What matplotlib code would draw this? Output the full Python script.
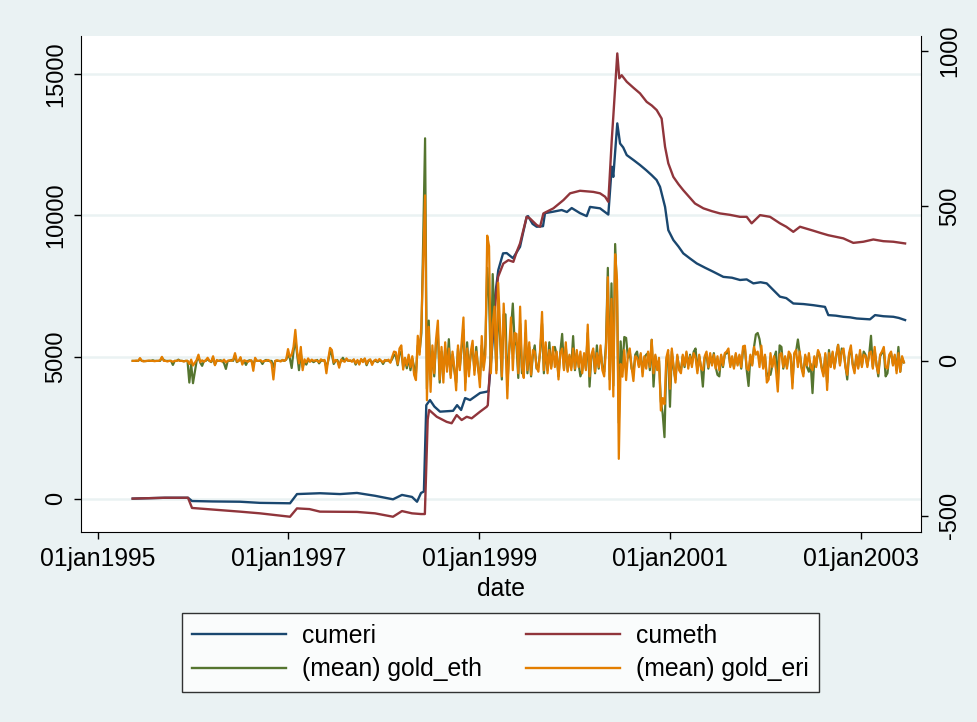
import numpy as np
import matplotlib.pyplot as plt

# cumulative series on the left axis (decimal year, value)
cumeri_t = [1995.366, 1995.705, 1995.946, 1995.988, 1996.20, 1996.491, 1996.701, 1997.016,
            1997.089, 1997.330, 1997.540, 1997.718, 1997.907, 1998.096, 1998.190, 1998.295,
            1998.348, 1998.390, 1998.420, 1998.445, 1998.484, 1998.530, 1998.589, 1998.726,
            1998.768, 1998.810, 1998.852, 1998.904, 1999.009, 1999.079, 1999.098, 1999.140,
            1999.166, 1999.200, 1999.250, 1999.288, 1999.354, 1999.428, 1999.459, 1999.498,
            1999.512, 1999.560, 1999.603, 1999.669, 1999.690, 1999.774, 1999.865, 1999.920,
            1999.970, 2000.057, 2000.127, 2000.162, 2000.267, 2000.354, 2000.390, 2000.406,
            2000.448, 2000.477, 2000.510, 2000.547, 2000.620, 2000.686, 2000.750, 2000.809,
            2000.860, 2000.896, 2000.949, 2000.983, 2001.036, 2001.090, 2001.140, 2001.210,
            2001.281, 2001.370, 2001.455, 2001.560, 2001.650, 2001.735, 2001.805, 2001.875,
            2001.950, 2002.015, 2002.080, 2002.154, 2002.220, 2002.294, 2002.400, 2002.504,
            2002.626, 2002.661, 2002.740, 2002.818, 2002.890, 2002.959, 2003.098, 2003.151,
            2003.238, 2003.343, 2003.400, 2003.466]
cumeri = [0, 30, 30, -85, -100, -110, -150, -165,
          160, 190, 160, 200, 100, -25, 130, 60,
          -110, 200, 250, 3300, 3480, 3250, 3070, 3100,
          3300, 3130, 3550, 3480, 3730, 3775, 3800, 5500,
          7130, 8070, 8660, 8670, 8490, 8890, 9370, 9950,
          9975, 9700, 9600, 9620, 10080, 10130, 10190, 10120,
          10260, 10080, 9975, 10300, 10250, 10030, 11720, 11360,
          13250, 12540, 12400, 12130, 11950, 11780, 11600, 11420,
          11250, 11010, 10300, 9480, 9130, 8900, 8660, 8480,
          8305, 8150, 8010, 7830, 7800, 7720, 7740, 7600,
          7640, 7600, 7380, 7130, 7080, 6890, 6870, 6830,
          6770, 6480, 6460, 6420, 6400, 6360, 6330, 6480,
          6440, 6420, 6380, 6305]

cumeth_t = [1995.366, 1995.705, 1995.946, 1995.988, 1996.491, 1996.701, 1997.016, 1997.089,
            1997.220, 1997.330, 1997.718, 1997.907, 1998.096, 1998.190, 1998.295, 1998.390,
            1998.430, 1998.460, 1998.475, 1998.555, 1998.659, 1998.711, 1998.764, 1998.816,
            1998.869, 1998.921, 1999.009, 1999.079, 1999.090, 1999.120, 1999.180, 1999.198,
            1999.253, 1999.306, 1999.358, 1999.393, 1999.428, 1999.463, 1999.498, 1999.533,
            1999.603, 1999.638, 1999.673, 1999.778, 1999.883, 1999.953, 2000.057, 2000.197,
            2000.267, 2000.320, 2000.354, 2000.390, 2000.406, 2000.448, 2000.469, 2000.494,
            2000.547, 2000.620, 2000.686, 2000.756, 2000.810, 2000.861, 2000.913, 2000.949,
            2000.983, 2001.036, 2001.090, 2001.140, 2001.263, 2001.351, 2001.440, 2001.525,
            2001.630, 2001.735, 2001.805, 2001.857, 2001.945, 2002.050, 2002.154, 2002.220,
            2002.294, 2002.364, 2002.504, 2002.580, 2002.661, 2002.818, 2002.923, 2003.028,
            2003.133, 2003.238, 2003.343, 2003.466]
cumeth = [0, 30, 30, -330, -460, -520, -640, -345,
          -370, -460, -470, -520, -640, -440, -520, -545,
          -545, 2800, 3130, 2890, 2710, 2660, 2950, 2775,
          2890, 2835, 3070, 3245, 3300, 5000, 7310, 7830,
          8300, 8420, 8360, 8715, 9010, 9480, 9950, 9890,
          9660, 9600, 10070, 10250, 10540, 10780, 10870, 10830,
          10780, 10660, 10480, 12660, 13480, 15720, 14840, 14950,
          14720, 14500, 14310, 14010, 13880, 13720, 13420, 12420,
          11840, 11360, 11100, 10890, 10420, 10250, 10150, 10070,
          10020, 9950, 9950, 9720, 10010, 9950, 9720, 9600,
          9420, 9600, 9460, 9380, 9300, 9190, 9030, 9070,
          9150, 9090, 9070, 9010]

# weekly means on the right axis, first week mid-May 1995
week0 = 1995.366
gold_eth = [
    0, 0, 0, 0, 6, 0, 0, -1, 0, 0, 0, 2, 0, 0, 0, 0, 10, 3, 0, 0,
    0, 0, -13, 0, 0, 4, 0, 0, -1, 0, 0, -70, -10, -72, -35, 0, 12, -6, -16, 0,
    0, 6, 0, -4, 10, -12, 0, 0, 2, 0, -8, -26, 0, 0, 3, 0, 18, -4, 0, 8,
    -6, 0, -13, 0, 2, 0, -14, 6, 0, 0, 0, -10, 0, 3, 0, 0, 0, -20, 0, 0,
    0, 0, 2, 0, 4, 20, 8, -23, 30, 70, 20, -30, 25, -20, 0, -12, 2, 0, 0, -4,
    0, 3, -8, 0, 2, 0, -20, 0, 30, 20, -10, 0, 3, -14, 0, 10, 0, 4, 0, 0,
    0, 3, -12, 0, -8, 4, 0, 6, -14, 0, 2, -8, 0, 0, -4, 2, 0, -10, 0, 2,
    0, -4, 6, 20, 15, -14, 22, 30, -20, 6, -24, 10, -30, 8, -20, -40, 50, 30, 90, 400,
    718, -90, 130, -60, 30, -50, 60, 90, -70, 30, -40, 40, -20, 70, -45, 20, -30, -70, 40, -20,
    40, 100, -70, 60, -30, 20, 40, -30, 45, -25, -60, 50, -20, 52, 300, 200, -30, 280, 120, -30,
    180, 80, -60, 150, 150, -80, 30, 100, 185, 60, 50, -55, 120, -40, -30, 90, -40, 45, -50, 20,
    50, -25, -20, 30, 120, -40, 40, -30, 60, -20, 30, 45, 20, -50, 30, 87, -25, 45, -30, 15,
    -20, 80, -30, 25, -10, -50, -30, 20, -25, 90, -83, 15, 30, -40, 50, -25, 35, -20, -35, 60,
    300, -60, 250, -80, 377, 225, -200, 63, -30, 77, 74, 10, 30, -25, -40, 20, 30, -15, 20, -35,
    10, 20, 25, -30, 68, -83, 15, -20, 0, -130, -170, -246, 0, 20, -148, 30, -25, -60, 15, -20,
    -30, 15, -20, 25, -15, 20, -10, 30, 40, -30, 15, -20, -83, 10, 20, -25, 15, -10, 25, -20,
    -45, -50, 15, -20, 20, 25, 30, -15, 10, -20, 20, -10, 15, -25, 35, 40, -30, -81, 15, -10,
    45, 85, 90, 70, 30, -20, 15, -50, -40, -45, -15, 10, 30, -70, 50, 45, -25, 10, -20, 20,
    15, -70, 20, 30, 69, 25, -20, -40, 15, -20, -35, -10, -104, 10, -15, 30, 15, -20, -40, 20,
    -70, 35, -15, 25, -20, 15, 52, -10, 40, 30, -15, -60, 20, 35, -10, -30, 15, -20, 25, -15,
    30, 20, -15, 20, 81, -20, 35, -10, -50, 15, 25, 35, -50, -40, 15, 25, -10, 15, -30, 45, -35, 10, -5,
]
gold_eri = [
    0, 0, 1, 0, 9, 0, -2, 0, 0, 1, 0, 0, -1, 0, 0, 2, 13, 0, 0, -2,
    0, 0, -3, 0, 0, 2, 0, 0, -2, 0, 0, -10, 4, -15, -6, 3, 20, -4, 2, -3,
    2, 10, 0, -2, 15, -14, 3, 0, 0, -2, 4, -5, 0, 2, 0, 4, 25, -2, 0, 12,
    -12, 2, 0, -3, 0, 2, -32, 10, 0, 0, 2, -3, 0, 0, 3, 0, -8, -60, 0, 2,
    0, -2, 3, 0, 5, 38, 12, 20, 45, 100, 30, -8, 45, -30, 5, -5, 8, -3, 4, 0,
    2, 0, -4, 5, 0, 3, -40, 6, 42, 35, -5, 3, 0, -22, 4, 0, -3, 8, 0, 2,
    -3, 5, -8, 3, -12, 6, -4, 8, -10, 2, 5, -13, 0, 4, -2, 6, 0, -5, 3, 0,
    4, -6, 13, 30, 28, -10, 40, 50, -28, 10, -15, 20, -20, 15, -45, -62, 81, 20, 122, 330,
    534, -127, 110, -100, 50, -40, 70, 130, -60, 45, -70, 60, -35, 40, -55, 30, -20, -95, 50, -30,
    60, 140, -95, 40, -50, 30, 65, -45, 30, -20, -85, 80, -30, 20, 404, 370, -40, 120, 175, -40,
    252, 114, -50, 185, 60, -121, 40, 140, -30, 90, 87, -40, 175, -20, -55, 130, -30, 60, -45, 35,
    30, -20, -35, 40, 158, -30, 60, -40, 35, -25, 45, -20, 30, -60, 25, 40, -30, 60, -35, 20,
    -30, 40, -25, 35, -20, 30, -40, 25, -30, 117, -50, 20, 40, -35, 25, -20, 50, -30, -50, 40,
    270, -92, 200, -115, 344, 263, -316, -10, -51, 35, -62, 20, 40, -20, -65, 15, 10, -20, 25, -50,
    15, -25, 30, -20, 68, -40, 20, -30, 10, -160, -120, -140, 10, 35, -90, 40, -20, -70, 20, -30,
    -40, 20, -15, 30, -25, 15, -20, 25, 10, -40, 20, -25, -30, 15, 30, -20, 25, -15, 20, -25,
    15, -30, 20, -15, 25, 30, 40, -20, 15, -25, 25, -15, 20, -20, 47, 49, -25, -30, 20, -15,
    45, 20, 30, -20, 49, -25, 20, -70, -60, 25, -20, 15, -30, -99, 20, 25, -20, 15, -25, 30,
    20, -89, 25, 35, -20, 30, -25, -50, 20, -15, 25, -20, -30, 15, -20, 35, 20, -25, -50, 25,
    -94, 25, -20, 30, -25, 20, 51, -15, 30, 40, -20, -45, 25, 50, -15, -40, 20, -25, 35, -20,
    20, 15, -20, 25, 30, -25, 45, -15, -40, 20, 30, 45, -20, -25, 20, 30, -15, 20, -40, 25, -35, 15, -5,
]

tick_years = [1995, 1997, 1999, 2001, 2003]
tick_labels = ['01jan1995', '01jan1997', '01jan1999', '01jan2001', '01jan2003']

navy = '#1A476F'
maroon = '#90353B'
green = '#55752F'
orange = '#E37E00'
bg = '#EAF2F3'

plt.rcParams['font.family'] = ['Liberation Sans', 'DejaVu Sans']
plt.rcParams['axes.unicode_minus'] = False
fs = 17

fig = plt.figure(figsize=(9.77, 7.22), dpi=100, facecolor=bg)
ax = fig.add_axes([81 / 977, 1 - 532 / 722, 840 / 977, 496 / 722])
ax2 = ax.twinx()

weeks = week0 + np.arange(len(gold_eri)) * 7 / 365.25

l1, = ax.plot(cumeri_t, cumeri, color=navy, lw=1.7)
l2, = ax.plot(cumeth_t, cumeth, color=maroon, lw=1.7)
l3, = ax2.plot(weeks, gold_eth, color=green, lw=1.6)
l4, = ax2.plot(weeks, gold_eri, color=orange, lw=1.6)

ax.set_xlim(1994.824, 2003.633)
ax.set_ylim(-1179, 16335)
ax2.set_ylim(-552, 1048)
ax.set_xticks(tick_years)
ax.set_xticklabels(tick_labels)
ax.set_yticks([0, 5000, 10000, 15000])
ax2.set_yticks([-500, 0, 500, 1000])
ax.grid(axis='y', color=bg, lw=1.8)
ax.set_axisbelow(True)

ax.spines['top'].set_visible(False)
ax.spines['right'].set_visible(False)
ax2.spines['top'].set_visible(False)
ax2.spines['left'].set_visible(False)
ax2.spines['bottom'].set_visible(False)
for a in (ax, ax2):
    a.tick_params(length=5, width=1, labelsize=fs, color='black')
ax.tick_params(axis='y', pad=5)
ax2.tick_params(axis='y', pad=8)
ax.tick_params(axis='x', pad=6, labelsize=17.8)
for lab in ax.get_yticklabels() + ax2.get_yticklabels():
    lab.set_rotation(90)
    lab.set_va('center')

ax.set_xlabel('date', fontsize=17.8, labelpad=4)

leg = fig.legend([l1, l3, l2, l4],
                 ['cumeri', '(mean) gold_eth', 'cumeth', '(mean) gold_eri'],
                 ncol=2, loc='center', bbox_to_anchor=(500.5 / 977, 1 - 652.5 / 722),
                 fontsize=17.8, frameon=True, fancybox=False, edgecolor='black',
                 handlelength=3.8, handletextpad=0.65, columnspacing=1.75,
                 labelspacing=0.38, borderpad=0.42, borderaxespad=0)
leg.get_frame().set_linewidth(1)
for line in leg.get_lines():
    line.set_linewidth(1.7)

fig.savefig('out.png', dpi=100, facecolor=bg)
